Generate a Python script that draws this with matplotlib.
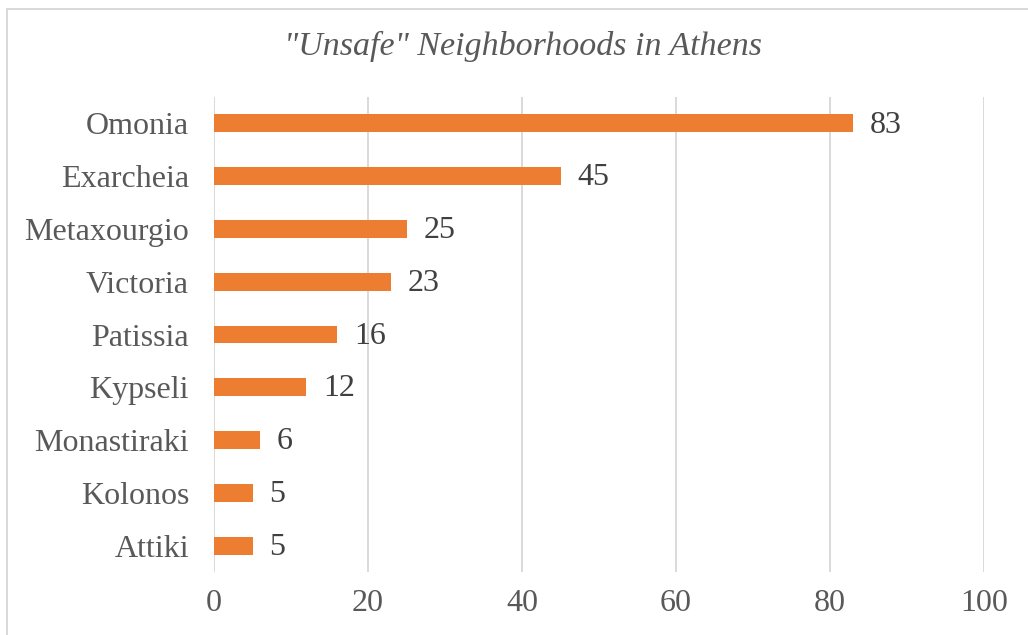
import matplotlib
matplotlib.use("Agg")
import matplotlib.pyplot as plt
from matplotlib.patches import Rectangle

# neighborhoods from top to bottom, with counts
neighborhoods = ["Omonia", "Exarcheia", "Metaxourgio", "Victoria", "Patissia",
                 "Kypseli", "Monastiraki", "Kolonos", "Attiki"]
counts = [83, 45, 25, 23, 16, 12, 6, 5, 5]
x_ticks = [0, 20, 40, 60, 80, 100]

W, H = 1028, 635
plt.rcParams["font.family"] = ["Liberation Serif", "DejaVu Serif"]

fig = plt.figure(figsize=(W / 100, H / 100), dpi=100)
fig.patch.set_facecolor("white")

# light chart-area border (runs off the right and bottom edges)
fig.patches.append(Rectangle((7 / W, -0.1), 1.2, 1.1 - 9 / H,
                             transform=fig.transFigure, fill=False,
                             edgecolor="#D9D9D9", linewidth=1.4))

ax = fig.add_axes([214 / W, (H - 572) / H, (984 - 214) / W, (572 - 97) / H])

ypos = list(range(len(neighborhoods)))
bars = ax.barh(ypos, counts, height=0.34, color="#ED7D31", zorder=3)
ax.set_ylim(len(neighborhoods) - 0.5, -0.5)
ax.set_xlim(0, 100)
ax.set_xticks(x_ticks)
ax.set_yticks(ypos)
ax.set_yticklabels(neighborhoods)

for y, v in zip(ypos, counts):
    ax.annotate(str(v), (v, y), xytext=(12, -1.2), textcoords="offset points",
                va="center", ha="left", fontsize=23, color="#404040")

ax.grid(axis="x", color="#D9D9D9", linewidth=1.4, zorder=0)
ax.set_axisbelow(True)
for s in ax.spines.values():
    s.set_visible(False)
ax.tick_params(axis="both", length=0, labelsize=23, labelcolor="#595959")
ax.tick_params(axis="x", pad=12)
ax.tick_params(axis="y", pad=18)

fig.text(523 / W, 1 - 46.5 / H, '"Unsafe" Neighborhoods in Athens',
         ha="center", va="center", fontsize=24.5, style="italic", color="#595959")

plt.savefig("out.png", dpi=100)
